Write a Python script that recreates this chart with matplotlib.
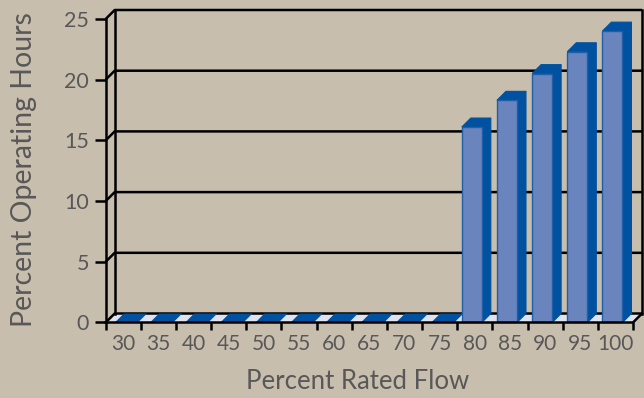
import matplotlib
matplotlib.use("Agg")
import matplotlib.pyplot as plt
from matplotlib.patches import Polygon, Rectangle

flow = [30, 35, 40, 45, 50, 55, 60, 65, 70, 75, 80, 85, 90, 95, 100]
hours = [0, 0, 0, 0, 0, 0, 0, 0, 0, 0, 16.1, 18.3, 20.5, 22.3, 24.0]
y_ticks = [0, 5, 10, 15, 20, 25]

bg = '#c7beae'
text_grey = '#585858'
front_blue = '#6a84bd'
dark_blue = '#0052a0'
floor_col = '#dfe2f1'

plt.rcParams['font.family'] = ['Lato', 'DejaVu Sans']

fig = plt.figure(figsize=(6.44, 3.98), dpi=100, facecolor=bg)
ax = fig.add_axes([0.1641, 0.1897, 0.8188, 0.7626])
ax.patch.set_visible(False)
for s in ax.spines.values():
    s.set_visible(False)

n = len(flow)
ax.set_xlim(0, n)
ax.set_ylim(0, 25)

# oblique depth offset (data units)
DX = 0.256
DY = 0.74

# floor
ax.add_patch(Polygon([(0, 0), (n, 0), (n + DX, DY), (DX, DY)], closed=True,
                     facecolor=floor_col, edgecolor='none', zorder=1, clip_on=False))

# side wall + back wall gridlines
for v in y_ticks:
    ax.plot([0, DX, n + DX], [v, v + DY, v + DY], color='black', lw=1.8,
            zorder=2, clip_on=False, solid_capstyle='butt')
ax.plot([DX, DX], [DY, 25 + DY], color='black', lw=1.8, zorder=2, clip_on=False)
ax.plot([n + DX, n + DX], [DY, 25 + DY], color='black', lw=1.8, zorder=2, clip_on=False)

# zero-height columns show up as stripes on the floor
sa, sw = 0.26, 0.66
for i, v in enumerate(hours):
    if v == 0:
        ax.add_patch(Polygon([(i + sa, 0), (i + sa + sw, 0),
                              (i + sa + sw + DX, DY), (i + sa + DX, DY)], closed=True,
                             facecolor=dark_blue, edgecolor='none', zorder=3, clip_on=False))

# 3d columns
a, w = 0.13, 0.57
for i, v in enumerate(hours):
    if v == 0:
        continue
    x0, x1 = i + a, i + a + w
    ax.add_patch(Polygon([(x1, 0), (x1 + DX, DY), (x1 + DX, v + DY), (x1, v)], closed=True,
                         facecolor=dark_blue, edgecolor=dark_blue, lw=0.8, zorder=4, clip_on=False))
    ax.add_patch(Polygon([(x0, v), (x1, v), (x1 + DX, v + DY), (x0 + DX, v + DY)], closed=True,
                         facecolor=dark_blue, edgecolor=dark_blue, lw=0.8, zorder=4, clip_on=False))
    ax.add_patch(Rectangle((x0, 0), w, v, facecolor=front_blue, edgecolor='#1f5fa8',
                           lw=1.0, zorder=5, clip_on=False))

# front axes
ax.plot([0, 0], [0, 25], color='black', lw=1.8, zorder=6, clip_on=False)
ax.plot([0, n, n + DX], [0, 0, DY], color='black', lw=1.8, zorder=6, clip_on=False)

ax.set_yticks(y_ticks)
ax.set_yticklabels([str(t) for t in y_ticks])
ax.set_xticks(range(n + 1))
ax.set_xticklabels([])
ax.set_xticks([i + 0.5 for i in range(n)], minor=True)
ax.set_xticklabels([str(f) for f in flow], minor=True)
ax.tick_params(axis='y', length=8, width=1.8, color='black', labelsize=15.5,
               labelcolor=text_grey, pad=4)
ax.tick_params(axis='x', which='major', length=6, width=1.8, color='black')
ax.tick_params(axis='x', which='minor', length=0, labelsize=15,
               labelcolor=text_grey, pad=8)

fig.text(0.555, 0.01, 'Percent Rated Flow', ha='center', va='bottom',
         fontsize=18.5, color=text_grey)
fig.text(0.038, 0.573, 'Percent Operating Hours', ha='center', va='center',
         rotation=90, fontsize=20.5, color=text_grey)

fig.savefig('out.png', dpi=100, facecolor=bg)
